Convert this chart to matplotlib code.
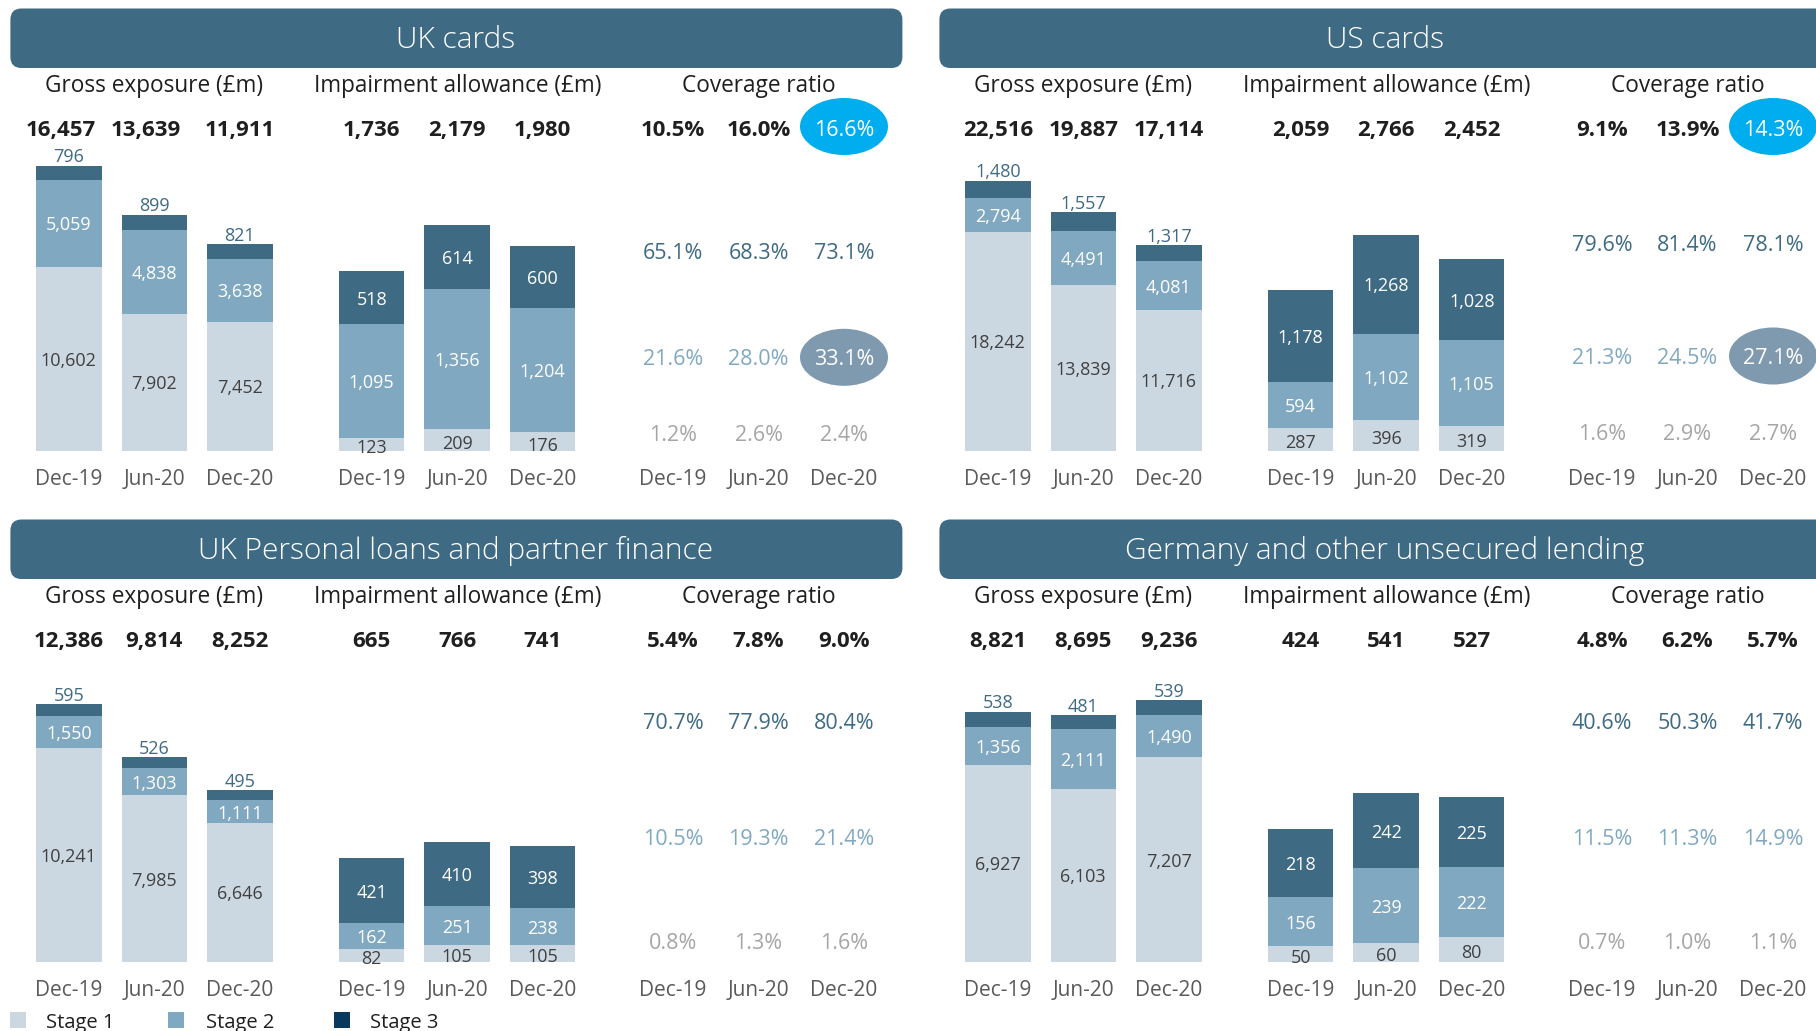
import matplotlib.pyplot as plt
from matplotlib.patches import FancyBboxPatch, Ellipse, Rectangle

plt.rcParams['font.family'] = ['Open Sans', 'DejaVu Sans']

# ---- data ----
periods = ['Dec-19', 'Jun-20', 'Dec-20']
stage_names = ['Stage 1', 'Stage 2', 'Stage 3']
titles = ['UK cards', 'US cards', 'UK Personal loans and partner finance',
          'Germany and other unsecured lending']

# UK cards
ukc_gross_s1 = [10602, 7902, 7452]
ukc_gross_s2 = [5059, 4838, 3638]
ukc_gross_s3 = [796, 899, 821]
ukc_gross_tot = [16457, 13639, 11911]
ukc_imp_s1 = [123, 209, 176]
ukc_imp_s2 = [1095, 1356, 1204]
ukc_imp_s3 = [518, 614, 600]
ukc_imp_tot = [1736, 2179, 1980]
ukc_cov_tot = [10.5, 16.0, 16.6]
ukc_cov_s1 = [1.2, 2.6, 2.4]
ukc_cov_s2 = [21.6, 28.0, 33.1]
ukc_cov_s3 = [65.1, 68.3, 73.1]

# US cards
usc_gross_s1 = [18242, 13839, 11716]
usc_gross_s2 = [2794, 4491, 4081]
usc_gross_s3 = [1480, 1557, 1317]
usc_gross_tot = [22516, 19887, 17114]
usc_imp_s1 = [287, 396, 319]
usc_imp_s2 = [594, 1102, 1105]
usc_imp_s3 = [1178, 1268, 1028]
usc_imp_tot = [2059, 2766, 2452]
usc_cov_tot = [9.1, 13.9, 14.3]
usc_cov_s1 = [1.6, 2.9, 2.7]
usc_cov_s2 = [21.3, 24.5, 27.1]
usc_cov_s3 = [79.6, 81.4, 78.1]

# UK personal loans and partner finance
ukl_gross_s1 = [10241, 7985, 6646]
ukl_gross_s2 = [1550, 1303, 1111]
ukl_gross_s3 = [595, 526, 495]
ukl_gross_tot = [12386, 9814, 8252]
ukl_imp_s1 = [82, 105, 105]
ukl_imp_s2 = [162, 251, 238]
ukl_imp_s3 = [421, 410, 398]
ukl_imp_tot = [665, 766, 741]
ukl_cov_tot = [5.4, 7.8, 9.0]
ukl_cov_s1 = [0.8, 1.3, 1.6]
ukl_cov_s2 = [10.5, 19.3, 21.4]
ukl_cov_s3 = [70.7, 77.9, 80.4]

# Germany and other unsecured lending
ger_gross_s1 = [6927, 6103, 7207]
ger_gross_s2 = [1356, 2111, 1490]
ger_gross_s3 = [538, 481, 539]
ger_gross_tot = [8821, 8695, 9236]
ger_imp_s1 = [50, 60, 80]
ger_imp_s2 = [156, 239, 222]
ger_imp_s3 = [218, 242, 225]
ger_imp_tot = [424, 541, 527]
ger_cov_tot = [4.8, 6.2, 5.7]
ger_cov_s1 = [0.7, 1.0, 1.1]
ger_cov_s2 = [11.5, 11.3, 14.9]
ger_cov_s3 = [40.6, 50.3, 41.7]

panels = [
    (ukc_gross_s1, ukc_gross_s2, ukc_gross_s3, ukc_gross_tot, ukc_imp_s1, ukc_imp_s2, ukc_imp_s3,
     ukc_imp_tot, ukc_cov_tot, ukc_cov_s1, ukc_cov_s2, ukc_cov_s3),
    (usc_gross_s1, usc_gross_s2, usc_gross_s3, usc_gross_tot, usc_imp_s1, usc_imp_s2, usc_imp_s3,
     usc_imp_tot, usc_cov_tot, usc_cov_s1, usc_cov_s2, usc_cov_s3),
    (ukl_gross_s1, ukl_gross_s2, ukl_gross_s3, ukl_gross_tot, ukl_imp_s1, ukl_imp_s2, ukl_imp_s3,
     ukl_imp_tot, ukl_cov_tot, ukl_cov_s1, ukl_cov_s2, ukl_cov_s3),
    (ger_gross_s1, ger_gross_s2, ger_gross_s3, ger_gross_tot, ger_imp_s1, ger_imp_s2, ger_imp_s3,
     ger_imp_tot, ger_cov_tot, ger_cov_s1, ger_cov_s2, ger_cov_s3),
]

# ---- layout (pixels) ----
W, H = 1816, 1031
panel_dx = [0, 929, 0, 929]
panel_dy = [0, 0, 511, 511]
gross_x0, imp_x0, cov_x0 = 68.8, 371.7, 673.0   # centre of first column
step = 85.5
bar_w = 65.5
baseline = 450.5
axes_h = 300
gross_ytop = [17341, 25042, 14423, 10590]
imp_ytop = [2899, 3851, 1923, 963]
cov_rows = [(433.3, 357.3, 251.7), (432.7, 356.0, 243.3),
            (430.7, 326.7, 210.7), (430.7, 326.7, 210.7)]   # y of stage 1, 2, 3 rows
gross_tot_shift = [[-8, -8, 0], [0, 0, 0], [0, 0, 0], [0, 0, 0]]
highlight = [True, True, False, False]
ty = 2.2   # text centring nudge

c1, c2, c3 = '#CCD8E1', '#80A9C1', '#3F6A84'
header_col = '#3F6A84'
dark = '#1F1F1F'
grey = '#5A5A5A'

fig = plt.figure(figsize=(W / 100, H / 100), dpi=100)
over = fig.add_axes([0, 0, 1, 1])
over.set_xlim(0, W)
over.set_ylim(H, 0)
over.axis('off')


def add_bar_axes(x0, dy, ytop):
    left = (x0 - step / 2) / W
    bottom = (H - (baseline + dy)) / H
    ax = fig.add_axes([left, bottom, 3 * step / W, axes_h / H])
    ax.set_xlim(-0.5, 2.5)
    ax.set_ylim(0, ytop)
    ax.axis('off')
    ax.patch.set_alpha(0)
    return ax


def fmt(v):
    return f'{v:,}'


for i, p in enumerate(panels):
    (g1, g2, g3, gt, m1, m2, m3, mt, ct, k1, k2, k3) = p
    dx, dy = panel_dx[i], panel_dy[i]

    # header band
    over.add_patch(FancyBboxPatch((10.4 + dx, 8.5 + dy), 892, 59.5,
                                  boxstyle='round,pad=0,rounding_size=11',
                                  fc=header_col, ec='none'))
    over.text(456 + dx, 38 + ty + dy, titles[i], color='white', fontsize=21.5,
              ha='center', va='center', fontweight='light')

    # sub headers
    for cx, lab in [(gross_x0, 'Gross exposure (£m)'), (imp_x0, 'Impairment allowance (£m)'),
                    (cov_x0, 'Coverage ratio')]:
        over.text(cx + step + dx, 84 + ty + dy, lab, fontsize=16.3, color=dark,
                  ha='center', va='center')

    # totals row and x labels
    for j in range(3):
        over.text(gross_x0 + j * step + gross_tot_shift[i][j] + dx, 128.5 + ty + dy, fmt(gt[j]),
                  fontsize=16, fontweight='bold', color=dark, ha='center', va='center')
        over.text(imp_x0 + j * step + dx, 128.5 + ty + dy, fmt(mt[j]), fontsize=16,
                  fontweight='bold', color=dark, ha='center', va='center')
        hl = highlight[i] and j == 2
        if hl:
            over.add_patch(Ellipse((cov_x0 + j * step + dx, 126.5 + dy), 88, 57,
                                   fc='#00AEEF', ec='none'))
        over.text(cov_x0 + j * step + dx, 128.5 + ty + dy, f'{ct[j]:.1f}%',
                  fontsize=15.5 if hl else 16,
                  fontweight='normal' if hl else 'bold', color='white' if hl else dark,
                  ha='center', va='center')
        for cx in (gross_x0, imp_x0, cov_x0):
            over.text(cx + j * step + dx, 477.5 + ty + dy, periods[j], fontsize=15,
                      color=grey, ha='center', va='center')

    # coverage ratio by stage
    y1, y2, y3 = cov_rows[i]
    for j in range(3):
        cx = cov_x0 + j * step + dx
        over.text(cx, y3 + ty + dy, f'{k3[j]:.1f}%', fontsize=15.5, color=c3,
                  ha='center', va='center')
        hl = highlight[i] and j == 2
        if hl:
            over.add_patch(Ellipse((cx, y2 + dy), 88, 57, fc='#7F9AAE', ec='none'))
        over.text(cx, y2 + ty + dy, f'{k2[j]:.1f}%', fontsize=15.5,
                  color='white' if hl else c2, ha='center', va='center')
        over.text(cx, y1 + ty + dy, f'{k1[j]:.1f}%', fontsize=15.5, color='#A6A6A6',
                  ha='center', va='center')

    x = [0, 1, 2]
    bw = bar_w / step

    # gross exposure bars
    ax = add_bar_axes(gross_x0 + dx, dy, gross_ytop[i])
    b2 = [a for a in g1]
    b3 = [a + b for a, b in zip(g1, g2)]
    ax.bar(x, g1, bw, color=c1, lw=0)
    ax.bar(x, g2, bw, bottom=b2, color=c2, lw=0)
    ax.bar(x, g3, bw, bottom=b3, color=c3, lw=0)
    for j in x:
        ax.annotate(fmt(g1[j]), (j, g1[j] / 2), xytext=(0, -1.5), textcoords='offset points',
                    ha='center', va='center', fontsize=13, color='#404040')
        ax.annotate(fmt(g2[j]), (j, b2[j] + g2[j] / 2), xytext=(0, -1.5),
                    textcoords='offset points', ha='center', va='center', fontsize=13,
                    color='white')
        ax.annotate(fmt(g3[j]), (j, b3[j] + g3[j]), xytext=(0, -0.5), textcoords='offset points',
                    ha='center', va='bottom', fontsize=13, color=c3)

    # impairment allowance bars
    ax = add_bar_axes(imp_x0 + dx, dy, imp_ytop[i])
    b2 = [a for a in m1]
    b3 = [a + b for a, b in zip(m1, m2)]
    ax.bar(x, m1, bw, color=c1, lw=0)
    ax.bar(x, m2, bw, bottom=b2, color=c2, lw=0)
    ax.bar(x, m3, bw, bottom=b3, color=c3, lw=0)
    for j in x:
        ax.annotate(fmt(m1[j]), (j, m1[j] / 2), xytext=(0, -3), textcoords='offset points',
                    ha='center', va='center', fontsize=13, color='#404040')
        ax.annotate(fmt(m2[j]), (j, b2[j] + m2[j] / 2), xytext=(0, -1.5),
                    textcoords='offset points', ha='center', va='center', fontsize=13,
                    color='white')
        ax.annotate(fmt(m3[j]), (j, b3[j] + m3[j] / 2), xytext=(0, -1.5),
                    textcoords='offset points', ha='center', va='center', fontsize=13,
                    color='white')

# legend
legend_cols = [c1, c2, '#093A5E']
for k, (lx, tx) in enumerate([(10, 46), (168, 206), (334, 370)]):
    over.add_patch(Rectangle((lx, 1012), 16, 16, fc=legend_cols[k], ec='none'))
    over.text(tx, 1021 + ty, stage_names[k], fontsize=14.5, color=dark, ha='left', va='center')

fig.savefig('out.png', dpi=100)
